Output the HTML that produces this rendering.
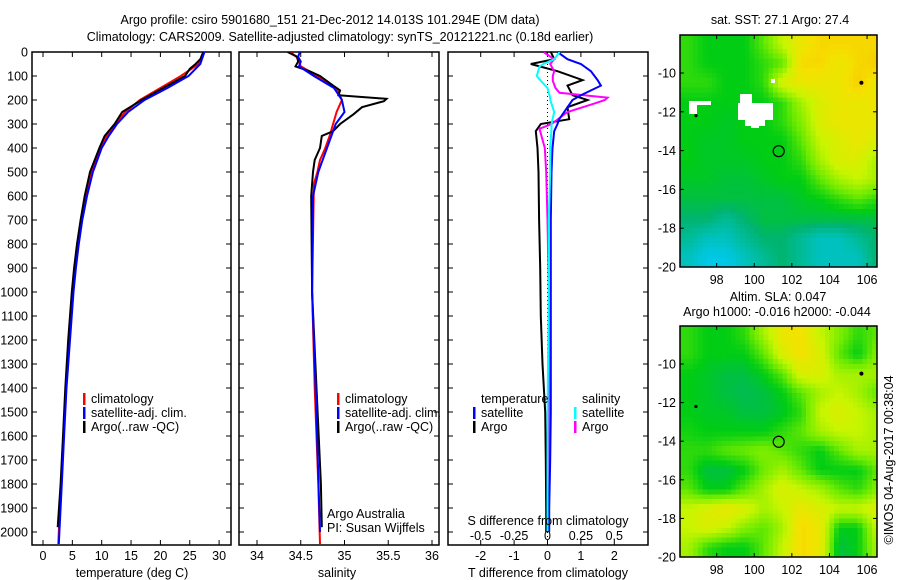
<!DOCTYPE html>
<html><head><meta charset="utf-8"><style>
html,body{margin:0;padding:0;background:#fff;}
svg{display:block;font-family:"Liberation Sans",sans-serif;}
text{font-size:12.5px;fill:#000;}
</style></head><body>
<svg id="fig" width="900" height="580" viewBox="0 0 900 580" xmlns="http://www.w3.org/2000/svg">
<defs>
<clipPath id="c1"><rect x="32" y="52" width="199" height="493"/></clipPath>
<clipPath id="c2"><rect x="239" y="52" width="200" height="493"/></clipPath>
<clipPath id="c3"><rect x="448" y="52" width="200" height="493"/></clipPath>
<clipPath id="cm1"><rect x="680" y="35" width="197" height="232"/></clipPath>
<clipPath id="cm2"><rect x="680" y="326" width="197" height="231"/></clipPath>
</defs>
<text x="330" y="24" text-anchor="middle" font-size="13">Argo profile: csiro 5901680_151 21-Dec-2012 14.013S 101.294E (DM data)</text>
<text x="340" y="41" text-anchor="middle" font-size="13">Climatology: CARS2009. Satellite-adjusted climatology: synTS_20121221.nc (0.18d earlier)</text>
<g id="g"></g>
</svg>
<script>
// ---------- data ----------
const depthTicks=[0,100,200,300,400,500,600,700,800,900,1000,1100,1200,1300,1400,1500,1600,1700,1800,1900,2000];
const tTicks=[0,5,10,15,20,25,30];
const sTicks=[34,34.5,35,35.5,36];
const dTTicks=[-2,-1,0,1,2];
const dSTicks=[-0.5,-0.25,0,0.25,0.5];
const dSTickLabels=["-0.5","-0.25","0","0.25","0.5"];
const latTicks=[-10,-12,-14,-16,-18,-20];
const lonTicks=[98,100,102,104,106];

const tClimDepth=[0,50,100,150,200,250,300,350,400,500,600,700,800,900,1000,1200,1400,1600,1800,2000,2050];
const tClim=[27.3,26.5,23.5,20,16.5,14,12.3,10.8,9.7,8.3,7.3,6.6,6.0,5.5,5.1,4.5,3.9,3.5,3.1,2.7,2.6];
const tSat=[27.5,26.8,24.8,21.2,17.3,14.5,12.6,11.2,10.0,8.5,7.5,6.7,6.1,5.6,5.2,4.6,4.0,3.6,3.2,2.8,2.7];
const tArgoDepth=[0,30,50,70,100,150,200,250,300,350,400,500,600,700,800,900,1000,1200,1400,1600,1800,1980];
const tArgo=[27.3,26.8,26,25,24.2,20.5,16.8,13.5,12.2,10.5,9.6,8.0,7.1,6.4,5.8,5.3,4.9,4.3,3.8,3.4,3.0,2.5];

const sClimDepth=[0,20,40,60,100,150,200,250,300,350,400,450,500,550,1000,1400,1800,2050];
const sClim=[34.38,34.45,34.48,34.5,34.69,34.91,34.97,34.91,34.87,34.83,34.78,34.72,34.69,34.65,34.63,34.66,34.7,34.72];
const sSatDepth=[0,20,40,60,100,150,200,250,300,400,500,600,1000,1400,2000];
const sSat=[34.49,34.47,34.5,34.48,34.65,34.88,34.97,35.0,34.9,34.8,34.7,34.64,34.63,34.67,34.72];
const sArgoDepth=[0,20,40,60,80,100,140,160,180,195,205,230,260,300,330,350,400,450,500,600,1000,1400,1800,1980];
const sArgo=[34.35,34.46,34.47,34.44,34.6,34.72,34.87,34.95,34.93,35.48,35.45,35.2,35.1,34.95,34.87,34.74,34.72,34.66,34.64,34.62,34.63,34.68,34.73,34.74];

const dTDepth=[0,30,50,80,117,140,180,200,230,280,300,330,400,500,700,900,1100,1300,1500,1700,1900,2000];
const dTSat=[0.3,0.6,1.0,1.3,1.5,1.6,1.0,0.75,0.6,0.35,0.3,0.2,0.15,0.12,0.1,0.1,0.1,0.1,0.1,0.08,0.05,0.05];
const dTArgo=[0.1,0.2,-0.5,0.3,1.05,0.6,0.75,1.2,0.6,0.65,-0.2,-0.35,-0.3,-0.27,-0.25,-0.22,-0.2,-0.15,-0.07,-0.05,-0.04,-0.04];
const dSDepth=[0,30,50,60,80,100,120,150,170,190,200,215,250,300,320,400,500,700,1000,1500,2000];
const dSSat=[0.09,0.05,-0.03,-0.06,-0.07,-0.08,-0.05,0,0.01,0.02,0.02,0.03,0.05,0.03,0.03,0.02,0.02,0.01,0.01,0.0,0.0];
const dSArgo=[-0.03,0.05,0.02,0.03,0.05,0.04,0.04,0.06,0.09,0.45,0.43,0.35,0.15,0.03,-0.06,-0.02,-0.01,0,0.01,0.01,0.01];

const gridLon=[96.5,97.5,98.5,99.5,100.5,101.5,102.5,103.5,104.5,105.5,106.5];
const gridLat=[-8.5,-9.5,-10.5,-11.5,-12.5,-13.5,-14.5,-15.5,-16.5,-17.5,-18.5,-19.5];
const sstGrid=[
[0.55,0.5,0.5,0.5,0.6,0.75,0.85,0.9,0.9,0.9,0.9],
[0.55,0.5,0.5,0.5,0.55,0.6,0.9,0.9,0.85,0.9,0.92],
[0.55,0.55,0.5,0.5,0.55,0.8,0.85,0.85,0.85,0.92,0.85],
[0.5,0.5,0.5,0.5,0.5,0.55,0.7,0.8,0.85,0.85,0.85],
[0.5,0.5,0.48,0.5,0.5,0.55,0.65,0.8,0.85,0.85,0.85],
[0.5,0.48,0.48,0.5,0.5,0.5,0.6,0.75,0.8,0.85,0.8],
[0.5,0.48,0.48,0.48,0.5,0.5,0.55,0.7,0.8,0.8,0.7],
[0.48,0.48,0.46,0.46,0.48,0.5,0.5,0.6,0.7,0.75,0.7],
[0.45,0.45,0.45,0.45,0.45,0.45,0.48,0.5,0.55,0.6,0.55],
[0.4,0.4,0.35,0.4,0.45,0.45,0.45,0.45,0.45,0.45,0.45],
[0.35,0.3,0.3,0.35,0.4,0.4,0.35,0.3,0.3,0.35,0.4],
[0.3,0.25,0.25,0.3,0.35,0.4,0.35,0.3,0.3,0.3,0.4]];
const slaGrid=[
[0.55,0.5,0.5,0.55,0.7,0.85,0.88,0.75,0.65,0.55,0.6],
[0.55,0.5,0.5,0.5,0.6,0.8,0.88,0.8,0.6,0.5,0.65],
[0.5,0.48,0.45,0.45,0.5,0.6,0.8,0.8,0.7,0.7,0.7],
[0.5,0.48,0.45,0.43,0.45,0.5,0.6,0.7,0.75,0.7,0.6],
[0.5,0.48,0.48,0.45,0.45,0.48,0.55,0.75,0.8,0.75,0.7],
[0.52,0.5,0.5,0.5,0.5,0.55,0.6,0.7,0.75,0.75,0.7],
[0.55,0.55,0.6,0.62,0.65,0.6,0.55,0.5,0.6,0.7,0.7],
[0.55,0.45,0.45,0.5,0.62,0.7,0.6,0.5,0.5,0.5,0.6],
[0.6,0.5,0.5,0.6,0.7,0.8,0.75,0.7,0.6,0.55,0.65],
[0.75,0.8,0.85,0.8,0.7,0.75,0.85,0.8,0.75,0.75,0.8],
[0.75,0.8,0.75,0.65,0.6,0.7,0.9,0.85,0.5,0.5,0.75],
[0.7,0.55,0.5,0.5,0.6,0.75,0.9,0.85,0.45,0.5,0.7]];

// ---------- helpers ----------
const NS="http://www.w3.org/2000/svg";
const G=document.getElementById('g');
function mk(tag,attrs,parent){const e=document.createElementNS(NS,tag);for(const k in attrs)e.setAttribute(k,attrs[k]);(parent||G).appendChild(e);return e;}
function txt(x,y,s,anchor,parent){const t=mk('text',{x:x,y:y,'text-anchor':anchor||'middle'},parent);t.textContent=s;return t;}
const yD=d=>52+d*0.24;
const xT=t=>43+t*5.87;
const xS=s=>257+(s-34)*87.5;
const xDT=v=>547.5+v*33.4;
const xDS=v=>547.5+v*133.6;
const mLon=l=>680+(l-96.05)*18.8;
const mLat1=l=>267-(l+20)*19.4;
const mLat2=l=>557-(l+20)*19.3;

function panel(x0,w,name){
  const r=mk('rect',{x:x0,y:52,width:w,height:493,fill:'none',stroke:'#000','stroke-width':1.5});
  
  
  depthTicks.forEach(d=>{
    mk('line',{x1:x0,x2:x0+5,y1:yD(d),y2:yD(d),stroke:'#000'});
    mk('line',{x1:x0+w-5,x2:x0+w,y1:yD(d),y2:yD(d),stroke:'#000'});
  });
}
function xticks(vals,fx,labels,ly){
  vals.forEach((v,i)=>{
    const x=fx(v);
    mk('line',{x1:x,x2:x,y1:545,y2:540,stroke:'#000'});
    mk('line',{x1:x,x2:x,y1:52,y2:57,stroke:'#000'});
    if(labels){const t=txt(x,ly,labels[i]);
      
      }
  });
}
function line(ds,vs,fx,color,clip,name,w){
  const p=ds.map((d,i)=>(i?'L':'M')+fx(vs[i]).toFixed(1)+','+yD(d).toFixed(1)).join('');
  const e=mk('path',{d:p,fill:'none',stroke:color,'stroke-width':w||2,'clip-path':'url(#'+clip+')'});
  
  
}
function legendEntry(x,y,color,label){
  const b=mk('rect',{x:x,y:y-10,width:2.5,height:12,fill:color});
  
  
  const t=txt(x+8,y,label,'start');
  
  
}

// ---------- panel 1: temperature ----------
panel(32,199,'temperature-panel');
depthTicks.forEach(d=>{const t=txt(28,yD(d)+4.5,String(d),'end');
  
  });
xticks(tTicks,xT,tTicks.map(String),560);
line(tClimDepth,tClim,xT,'#ff0000','c1','temperature-climatology-line');
line(tArgoDepth,tArgo,xT,'#000000','c1','temperature-argo-line');
line(tClimDepth,tSat,xT,'#0000ff','c1','temperature-satellite-line');
legendEntry(83,403,'#ff0000','climatology');
legendEntry(83,417,'#0000ff','satellite-adj. clim.');
legendEntry(83,431,'#000000','Argo(..raw -QC)');
let t=txt(132,577,'temperature (deg C)');



// ---------- panel 2: salinity ----------
panel(239,200,'salinity-panel');
xticks(sTicks,xS,sTicks.map(String),560);
line(sClimDepth,sClim,xS,'#ff0000','c2','salinity-climatology-line');
line(sArgoDepth,sArgo,xS,'#000000','c2','salinity-argo-line');
line(sSatDepth,sSat,xS,'#0000ff','c2','salinity-satellite-line');
legendEntry(337,403,'#ff0000','climatology');
legendEntry(337,417,'#0000ff','satellite-adj. clim.');
legendEntry(337,431,'#000000','Argo(..raw -QC)');
t=txt(327,518,'Argo Australia','start');


t=txt(327,532,'PI: Susan Wijffels','start');


t=txt(337,577,'salinity');



// ---------- panel 3: differences ----------
panel(448,200,'difference-panel');
xticks(dTTicks,xDT,dTTicks.map(String),560);
mk('line',{x1:xDT(0),x2:xDT(0),y1:52,y2:545,stroke:'#000','stroke-dasharray':'1,3'});
line(dTDepth,dTArgo,xDT,'#000000','c3','t-diff-argo-line');
line(dSDepth,dSArgo,xDS,'#ff00ff','c3','s-diff-argo-line');
line(dTDepth,dTSat,xDT,'#0000ff','c3','t-diff-satellite-line');
line(dSDepth,dSSat,xDS,'#00ffff','c3','s-diff-satellite-line');
t=txt(481,403,'temperature','start');


t=txt(582,403,'salinity','start');


legendEntry(473,417,'#0000ff','satellite');
legendEntry(473,431,'#000000','Argo');
legendEntry(574,417,'#00ffff','satellite');
legendEntry(574,431,'#ff00ff','Argo');
t=txt(548,525,'S difference from climatology');


dSTicks.forEach((v,i)=>{const e=txt(xDS(v),540,dSTickLabels[i]);
  
  });
t=txt(548,577,'T difference from climatology');



// ---------- maps ----------
function color(v){
  const stops=[[0,[0,140,255]],[0.25,[0,200,230]],[0.4,[0,180,110]],[0.5,[0,205,20]],[0.62,[110,235,0]],[0.75,[200,245,0]],[0.88,[245,225,0]],[1,[250,170,0]]];
  for(let i=1;i<stops.length;i++){if(v<=stops[i][0]){const a=stops[i-1],b=stops[i],f=(v-a[0])/(b[0]-a[0]);
    return 'rgb('+a[1].map((c,k)=>Math.round(c+(b[1][k]-c)*f)).join(',')+')';}}
  return 'rgb(250,170,0)';
}
function sample(grid,lon,lat){
  // bilinear interpolation in grid index space (rendering only)
  let fj=(lon-gridLon[0]);let fi=(gridLat[0]-lat);
  fj=Math.max(0,Math.min(gridLon.length-1,fj));fi=Math.max(0,Math.min(gridLat.length-1,fi));
  const j0=Math.floor(fj),i0=Math.floor(fi),j1=Math.min(j0+1,gridLon.length-1),i1=Math.min(i0+1,gridLat.length-1);
  const a=fj-j0,b=fi-i0;
  return grid[i0][j0]*(1-a)*(1-b)+grid[i0][j1]*a*(1-b)+grid[i1][j0]*(1-a)*b+grid[i1][j1]*a*b;
}
function map(grid,fy,clip,name){
  const outer=mk('g',{'clip-path':'url(#'+clip+')','shape-rendering':'crispEdges'});
  
  
  const step=0.25;
  for(let lat=-7.75;lat>-20.25;lat-=step){
    for(let lon=96;lon<106.75;lon+=step){
      const v=sample(grid,lon+step/2,lat-step/2);
      const x0=mLon(lon),x1=mLon(lon+step),y0=fy(lat),y1=fy(lat-step);
      const c=mk('rect',{x:x0.toFixed(1),y:y0.toFixed(1),width:(x1-x0+0.6).toFixed(1),height:(y1-y0+0.6).toFixed(1),fill:color(v)},outer);
      
      
    }
  }
  return outer;
}
function mapAxes(fy,y0,y1,name){
  const r=mk('rect',{x:680,y:y0,width:197,height:y1-y0,fill:'none',stroke:'#000','stroke-width':1.5});
  
  
  latTicks.forEach(l=>{const y=fy(l);
    mk('line',{x1:680,x2:684,y1:y,y2:y,stroke:'#000'});
    mk('line',{x1:873,x2:877,y1:y,y2:y,stroke:'#000'});
    const e=txt(676,y+4.5,String(l),'end');
    
    });
  lonTicks.forEach(l=>{const x=mLon(l);
    mk('line',{x1:x,x2:x,y1:y1,y2:y1-4,stroke:'#000'});
    mk('line',{x1:x,x2:x,y1:y0,y2:y0+4,stroke:'#000'});
    const e=txt(x,y1+17,String(l));
    
    });
  const f1=mk('circle',{cx:mLon(105.7),cy:fy(-10.5),r:2,fill:'#000'});
  
  
  const f2=mk('circle',{cx:mLon(96.9),cy:fy(-12.2),r:1.6,fill:'#000'});
  
  
  const c=mk('circle',{cx:mLon(101.3),cy:fy(-14.03),r:5.5,fill:'none',stroke:'#000','stroke-width':1.2});
  
  
}
const m1=map(sstGrid,mLat1,'cm1','sst-map');
[[689,101,22,4],[689,105,8,9],[740,94,12,10],[738,103,35,17],[745,118,20,8],[751,124,8,4],[771,79,4,4]].forEach(r=>{
  const w=mk('rect',{x:r[0],y:r[1],width:r[2],height:r[3],fill:'#fff'},m1);
  
  });
mapAxes(mLat1,35,267,'sst-map');
t=txt(780,24,'sat. SST: 27.1 Argo: 27.4');



map(slaGrid,mLat2,'cm2','sla-map');
mapAxes(mLat2,326,557,'sla-map');
t=txt(778,301,'Altim. SLA: 0.047');


t=txt(777,316,'Argo h1000: -0.016 h2000: -0.044');


t=txt(0,0,'©IMOS 04-Aug-2017 00:38:04');
t.setAttribute('transform','translate(893,460) rotate(-90)');


</script>
</body></html>
